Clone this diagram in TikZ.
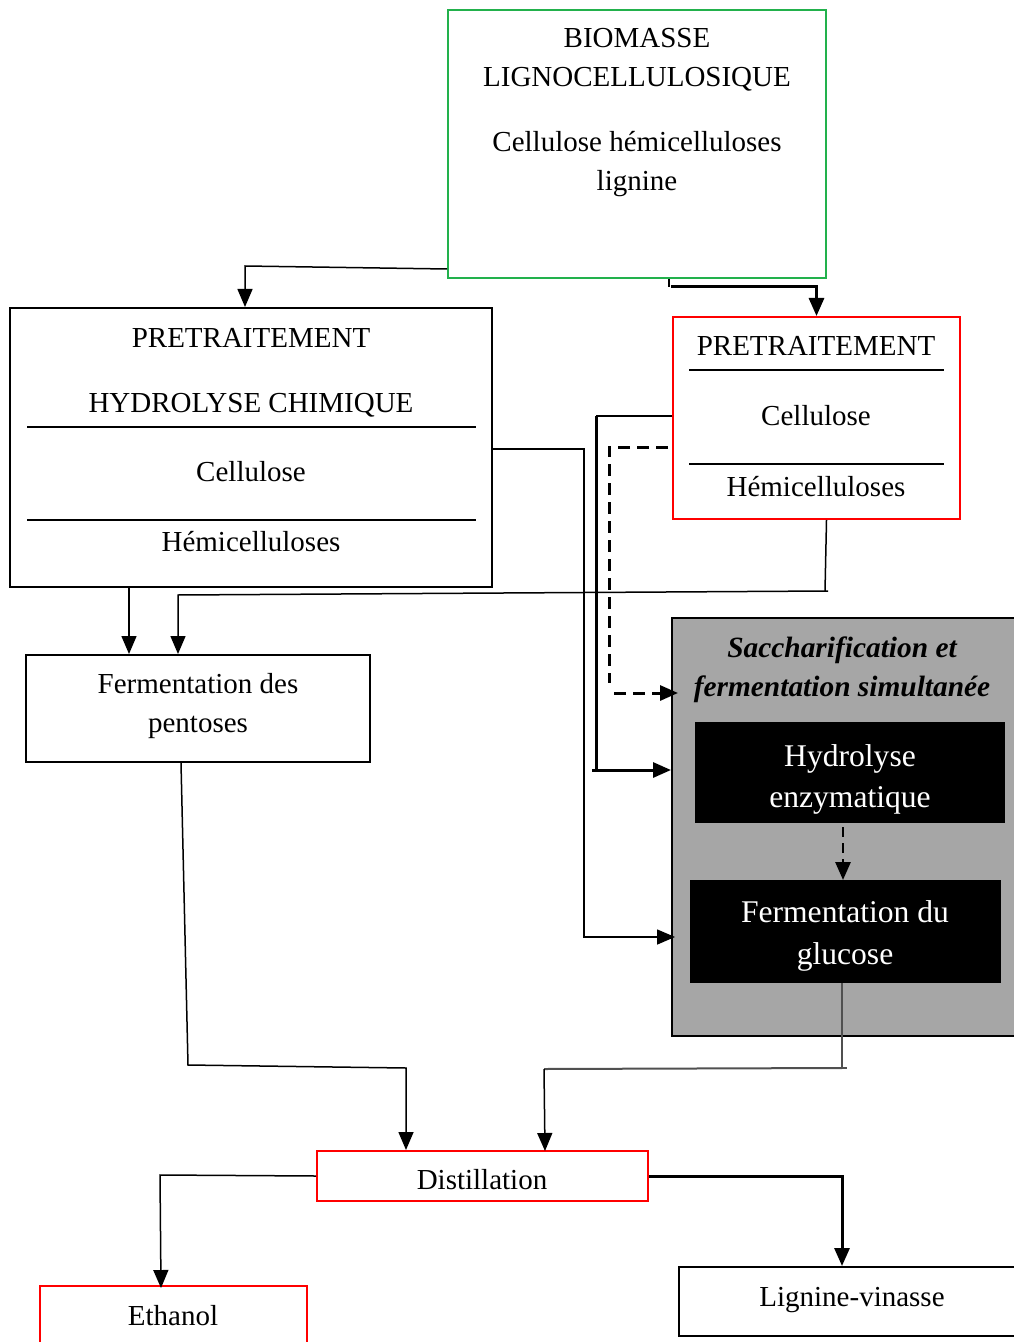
\documentclass[tikz,border=0pt]{standalone}
\usepackage{fontspec}
\setmainfont{Liberation Serif}
\usetikzlibrary{arrows.meta,calc,fit}
\definecolor{bgreen}{HTML}{22B14C}
\definecolor{bred}{HTML}{FF0000}
\definecolor{bgray}{HTML}{A6A6A6}
\definecolor{cgray}{HTML}{505050}
\begin{document}
\begin{tikzpicture}[x=0.5pt,y=-0.5pt,
  frame/.style={inner sep=0pt, line width=1pt},
  txt/.style={anchor=base, inner sep=0pt, font=\fontsize{14.5}{17}\selectfont},
  wtxt/.style={anchor=base, inner sep=0pt, text=white, font=\fontsize{15.8}{18}\selectfont},
  ttxt/.style={anchor=base, inner sep=0pt, font=\fontsize{14.7}{17}\selectfont\bfseries\itshape},
  sep/.style={line width=0.9pt},
  tip/.style={-{Triangle[length=9pt,width=7.5pt]}},
  thinc/.style={line width=0.75pt},
  thickc/.style={line width=1.5pt},
  dashc/.style={line width=1.5pt, dash pattern=on 6pt off 3.5pt},
]
\useasboundingbox (0,0) rectangle (1013,1342);

% ---- boxes ----
\node[frame, draw=bgreen, fit={(448,10)(826,278)}] (bio) {};
\node[frame, draw=black, fit={(10,308)(492,587)}] (pre1) {};
\node[frame, draw=bred, fit={(673,317)(960,519)}] (pre2) {};
\node[frame, draw=black, fit={(26,655)(370,762)}] (pent) {};
\node[frame, draw=black, fill=bgray, fit={(672,618)(1020,1036)}] (ssf) {};
\node[frame, draw=black, fill=black, fit={(696,723)(1004,822)}] (hyd) {};
\node[frame, draw=black, fill=black, fit={(691,881)(1000,982)}] (ferm) {};
\node[frame, draw=bred, fit={(317,1151)(648,1201)}] (dist) {};
\node[frame, draw=bred, fit={(40,1286)(307,1350)}] (eth) {};
\node[frame, draw=black, fit={(679,1267)(1020,1336)}] (lig) {};

% ---- separator lines ----
\draw[sep] (27,427) -- (476,427);
\draw[sep] (27,520) -- (476,520);
\draw[sep] (689,370) -- (944,370);
\draw[sep] (689,464) -- (944,464);

% ---- texts ----
\node[txt] (t1) at (637,48) {BIOMASSE};
\node[txt] (t2) at (637,87) {LIGNOCELLULOSIQUE};
\node[txt] (t3) at (637,152) {Cellulose hémicelluloses};
\node[txt] (t4) at (637,191) {lignine};

\node[txt] (t5) at (251,347) {PRETRAITEMENT};
\node[txt] (t6) at (251,412) {HYDROLYSE CHIMIQUE};
\node[txt] (t7) at (251,481) {Cellulose};
\node[txt] (t8) at (251,551) {Hémicelluloses};

\node[txt] (t9) at (816,356) {PRETRAITEMENT};
\node[txt] (t10) at (816,425) {Cellulose};
\node[txt] (t11) at (816,496) {Hémicelluloses};

\node[txt] (t12) at (198,693) {Fermentation des};
\node[txt] (t13) at (198,732) {pentoses};

\node[ttxt] (t14) at (842,657) {Saccharification et};
\node[ttxt] (t15) at (842,696) {fermentation simultanée};

\node[wtxt] (t16) at (850,766) {Hydrolyse};
\node[wtxt] (t17) at (850,807) {enzymatique};
\node[wtxt] (t18) at (845,922) {Fermentation du};
\node[wtxt] (t19) at (845,964) {glucose};

\node[txt] (t20) at (482,1189) {Distillation};
\node[txt] (t21) at (173,1325) {Ethanol};
\node[txt] (t22) at (852,1306) {Lignine-vinasse};

% ---- connectors ----
% biomasse -> pretraitement (left)
\coordinate (a1) at (245,266);
\draw[thinc, tip] ($(bio.south west)+(0,-10)$) -- (a1) -- (a1 |- pre1.north);
% biomasse -> pretraitement (right)
\coordinate (b0) at (669,287);
\draw[thinc] (b0 |- bio.south) -- (b0);
\coordinate (b1) at (671,287);
\draw[thickc, tip] (b1) -| (pre2.north);
% pre1 -> fermentation du glucose (via gray box)
\coordinate (c1) at (584,449);
\coordinate (c2) at (584,937);
\draw[thinc, tip] (pre1.east |- c1) -- (c1) -- (c2) -- ($(ssf.west |- c2)+(4,0)$);
% pre2 cellulose -> hydrolyse
\coordinate (d1) at (596,416);
\coordinate (d2) at (596,770);
\coordinate (d3) at (592,770);
\draw[thinc] (pre2.west |- d1) -- (d1);
\draw[thickc] (d1) -- (d2);
\draw[thickc, tip] (d3) -- (ssf.west |- d3);
% dashed pre2 -> ssf title
\coordinate (e0) at (668,447);
\coordinate (e1) at (609,447);
\coordinate (e2) at (609,683);
\coordinate (e3) at (614,693);
\draw[dashc] (e0) -- (e1) -- (e2);
\draw[dashc, tip] (e3) -- ($(ssf.west |- e3)+(7,0)$);
% pre2 hemicelluloses -> pentoses
\coordinate (f1) at (825,591);
\coordinate (f2) at (178,595);
\draw[thinc] ($(pre2.south)+(10,0)$) -- (f1);
\draw[thinc, tip] (828,591) -- (f2) -- (f2 |- pent.north);
% pre1 -> pentoses
\coordinate (g1) at (129,600);
\draw[thinc, tip] (g1 |- pre1.south) -- (g1 |- pent.north);
% pentoses -> distillation
\coordinate (h0) at (181,762);
\coordinate (h1) at (188,1065);
\coordinate (h2) at (406,1068);
\draw[thinc, tip] (h0 |- pent.south) -- (h1) -- (h2) -- (h2 |- dist.north);
% fermentation du glucose -> distillation
\coordinate (i1) at (842,1068);
\coordinate (i2) at (544,1069);
\draw[cgray, line width=1pt] (i1 |- ferm.south) -- (i1) -- (847,1068);
\draw[cgray, line width=1pt] (i1) -- (i2);
\draw[thinc, tip] (i2) -- (545,1151);
% hydrolyse -> fermentation du glucose (dashed)
\coordinate (j1) at (843,830);
\draw[line width=1.4pt, dash pattern=on 5pt off 3pt, tip] ($(j1 |- hyd.south)+(0,4)$) -- (j1 |- ferm.north);
% distillation -> ethanol
\coordinate (k1) at (160,1175);
\draw[thinc, tip] (dist.west) -- (k1) -- (161,1288);
% distillation -> lignine-vinasse
\coordinate (l1) at (842,1176);
\draw[thickc, tip] (dist.east) -- (l1) -- (l1 |- lig.north);
\end{tikzpicture}
\end{document}
